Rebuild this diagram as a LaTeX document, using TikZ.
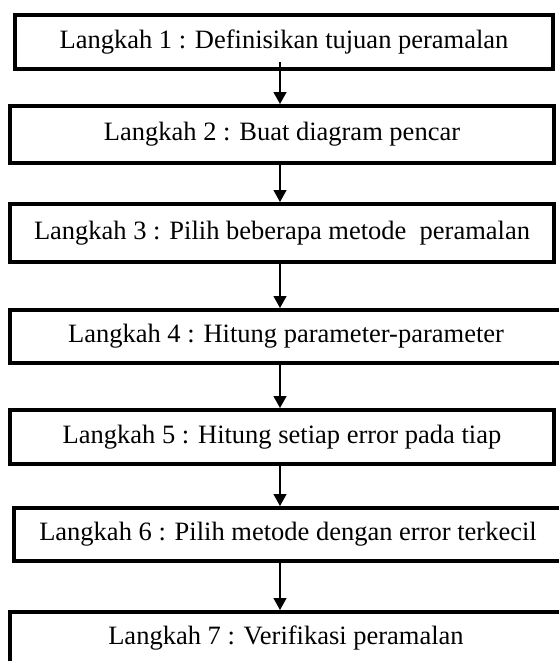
\documentclass[tikz,border=0pt]{standalone}
\usepackage{fontspec}
\setmainfont{Liberation Serif}
\usetikzlibrary{arrows.meta}
\tikzset{
  stepbox/.style={draw=black, line width=4pt, rectangle, inner sep=0pt, fill=white,
    font=\fontsize{26.5}{30}\selectfont, text=black},
  flow/.style={line width=1.3pt, -{Triangle[width=13pt,length=12pt]}}
}
\begin{document}
\begin{tikzpicture}[x=1pt,y=1pt]
\useasboundingbox (0,0) rectangle (558,-661);
\fill[white] (0,0) rectangle (558,-661);
\node[stepbox, minimum width=538pt, minimum height=54pt] (b1) at (284,-42) {Langkah 1 : Definisikan tujuan peramalan};
\node[stepbox, minimum width=544pt, minimum height=57pt] (b2) at (282,-134.5) {Langkah 2 : Buat diagram pencar};
\node[stepbox, minimum width=544pt, minimum height=58pt] (b3) at (282,-233) {Langkah 3 : Pilih beberapa metode\ \ peramalan};
\node[stepbox, minimum width=552pt, minimum height=53pt] (b4) at (286,-336.5) {Langkah 4 : Hitung parameter-parameter};
\node[stepbox, minimum width=544pt, minimum height=54pt] (b5) at (282,-437) {Langkah 5 : Hitung setiap error pada tiap};
\node[stepbox, minimum width=548pt, minimum height=53pt] (b6) at (288,-534.5) {Langkah 6 : Pilih metode dengan error terkecil};
\node[stepbox, minimum width=552pt, minimum height=52pt] (b7) at (286,-638) {Langkah 7 : Verifikasi peramalan};
\coordinate (ax) at (280,0);
\draw[flow] ([yshift=9pt]b1.south -| ax) -- (b2.north -| ax);
\draw[flow] (b2.south -| ax) -- (b3.north -| ax);
\draw[flow] (b3.south -| ax) -- (b4.north -| ax);
\draw[flow] (b4.south -| ax) -- (b5.north -| ax);
\draw[flow] (b5.south -| ax) -- (b6.north -| ax);
\draw[flow] (b6.south -| ax) -- (b7.north -| ax);
\end{tikzpicture}
\end{document}
